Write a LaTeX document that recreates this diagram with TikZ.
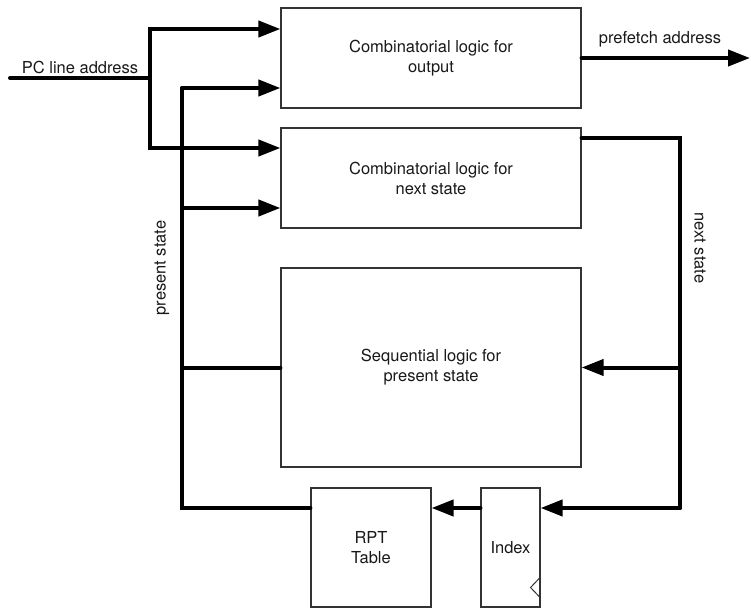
\documentclass[tikz,border=0pt]{standalone}
\usepackage{fontspec}
\setmainfont{TeX Gyre Heros}
\usetikzlibrary{arrows.meta,positioning}
\begin{document}
\begin{tikzpicture}[x=1pt,y=-1pt,
  font=\fontsize{16.5}{20}\selectfont,
  block/.style={draw=black!80, line width=1.1pt, fill=white, align=center, inner sep=0pt, text=black!90},
  wire/.style={line width=4pt, line cap=round, line join=miter},
  sig/.style={wire, -{Triangle[length=22pt,width=16pt]}},
  lbl/.style={text=black!90, inner sep=0pt}
]
\useasboundingbox (0,0) rectangle (751,610);

% blocks
\node[block, minimum width=300pt, minimum height=100pt] (out) at (431,58) {Combinatorial logic for\\output};
\node[block, minimum width=300pt, minimum height=100pt] (nxt) at (431,178) {Combinatorial logic for\\next state};
\node[block, minimum width=300pt, minimum height=199pt] (seq) at (431,367.5) {Sequential logic for\\present state};
\node[block, minimum width=120pt, minimum height=119pt] (rpt) at (371,547.5) {RPT\\Table};
\node[block, minimum width=59pt, minimum height=119pt] (idx) at (510.5,547.5) {Index};
% clock mark on the index register
\draw[black!80, line width=1pt] ([yshift=-29.5pt]idx.east) -- ++(-10,10.5) -- ++(10,10.5);

% entry points on the combinational blocks
\coordinate (o1) at ([yshift=29pt]out.west);
\coordinate (o2) at ([yshift=-30pt]out.west);
\coordinate (n1) at ([yshift=30pt]nxt.west);
\coordinate (n2) at ([yshift=-30pt]nxt.west);
\coordinate (nout) at ([yshift=40pt]nxt.east);
\coordinate (rin) at ([yshift=39.5pt]rpt.east);
\coordinate (rout) at ([yshift=39.5pt]rpt.west);
\coordinate (iin) at ([yshift=39.5pt]idx.east);
\coordinate (iout) at ([yshift=39.5pt]idx.west);

% PC line address input
\coordinate (pcin) at (10,78);
\coordinate (pcj) at (150,78);
\draw[wire] (pcin) -- (pcj);
\draw[sig] (pcj) |- (o1);
\draw[sig] (pcj) |- (n1);
\node[lbl, anchor=base] (pclbl) at (80,73) {PC line address};

% prefetch address output
\coordinate (pf) at (750,58);
\draw[sig] (out.east) -- (pf);
\node[lbl, anchor=base] (pflbl) at (660,44) {prefetch address};

% present state bus
\coordinate (psb) at (182,508);
\coordinate (pst) at (182,88);
\draw[wire] (rout) -- (psb) -- (pst);
\draw[sig] (pst) -- (o2);
\draw[sig] (n2 -| psb) -- (n2);
\draw[wire] (seq.west -| psb) -- (seq.west);
\node[lbl, rotate=90] (pslbl) at (162,268) {present state};

% next state bus
\coordinate (nsr) at (680,138);
\coordinate (nsb) at (680,508);
\draw[wire] (nout) -- (nsr) -- (nsb);
\draw[sig] (nsb) -- (iin);
\draw[sig] (seq.east -| nsr) -- (seq.east);
\draw[sig] (iout) -- (rin);
\node[lbl, rotate=-90] (nslbl) at (700,248) {next state};
\end{tikzpicture}
\end{document}
